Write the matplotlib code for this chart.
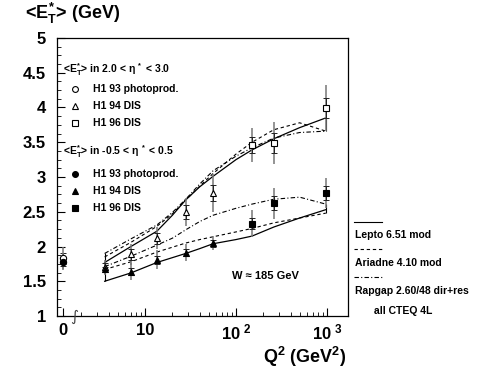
import matplotlib.pyplot as plt
from matplotlib.ticker import FixedLocator, NullFormatter, MultipleLocator

plt.rcParams['font.family'] = ['Liberation Sans', 'DejaVu Sans']
plt.rcParams['font.weight'] = 'bold'
plt.rcParams['mathtext.fontset'] = 'custom'
plt.rcParams['mathtext.rm'] = 'Liberation Sans:bold'
plt.rcParams['mathtext.bf'] = 'Liberation Sans:bold'
plt.rcParams['mathtext.it'] = 'Liberation Sans:bold'
plt.rcParams['mathtext.default'] = 'bf'

# photoproduction (Q2 = 0)
php_fwd, php_fwd_err = 1.83, 0.16
php_cen, php_cen_err = 1.78, 0.12

# H1 94 DIS
q2_94 = [3.6, 7.0, 13.5, 28, 56]
fwd_94 = [1.71, 1.89, 2.12, 2.50, 2.77]
fwd_94_err = [0.10, 0.15, 0.16, 0.20, 0.27]
fwd_94_stat = [0.05, 0.08, 0.08, 0.10, 0.12]
cen_94 = [1.67, 1.64, 1.81, 1.91, 2.05]
cen_94_err = [0.08, 0.12, 0.14, 0.12, 0.10]
cen_94_stat = [0.04, 0.05, 0.06, 0.05, 0.05]

# H1 96 DIS
q2_96 = [150, 260, 970]
fwd_96 = [3.46, 3.49, 3.99]
fwd_96_err = [0.25, 0.30, 0.33]
fwd_96_stat = [0.12, 0.14, 0.14]
cen_96 = [2.33, 2.62, 2.77]
cen_96_err = [0.20, 0.22, 0.21]
cen_96_stat = [0.08, 0.10, 0.10]

# model curves
model_q2 = [3.6, 7, 13.5, 20, 28, 40, 56, 100, 150, 260, 500, 970]
lepto_fwd = [1.77, 2.00, 2.22, 2.45, 2.67, 2.86, 3.01, 3.25, 3.39, 3.55, 3.71, 3.85]
ariadne_fwd = [1.85, 2.06, 2.29, 2.47, 2.67, 2.87, 3.05, 3.33, 3.50, 3.68, 3.78, 3.66]
rapgap_fwd = [1.90, 2.11, 2.31, 2.49, 2.68, 2.90, 3.09, 3.30, 3.42, 3.56, 3.64, 3.66]
lepto_cen = [1.50, 1.62, 1.77, 1.84, 1.90, 1.97, 2.04, 2.10, 2.15, 2.28, 2.41, 2.53]
ariadne_cen = [1.67, 1.78, 1.92, 1.99, 2.05, 2.10, 2.14, 2.21, 2.26, 2.34, 2.41, 2.48]
rapgap_cen = [1.71, 1.86, 2.02, 2.12, 2.24, 2.36, 2.45, 2.55, 2.61, 2.68, 2.71, 2.61]

PHP_X = 1.26  # where Q2=0 is drawn on the log axis

fig = plt.figure(figsize=(4.89, 3.71), dpi=100)
ax = fig.add_axes([0.1166, 0.1482, 0.5951, 0.7494])
ax.set_xscale('log')
ax.set_xlim(1.079, 1702)
ax.set_ylim(1, 5)

# models
for curves in [(lepto_fwd, ariadne_fwd, rapgap_fwd), (lepto_cen, ariadne_cen, rapgap_cen)]:
    ax.plot(model_q2, curves[0], 'k-', lw=0.9)
    ax.plot(model_q2, curves[1], color='k', ls=(0, (3, 2.5)), lw=0.8)
    ax.plot(model_q2, curves[2], color='k', ls=(0, (4, 2, 1, 2)), lw=0.8)
    ax.vlines(model_q2[-1], min(c[-1] for c in curves), max(c[-1] for c in curves), color='k', lw=0.8)
ax.vlines(model_q2[0], min(lepto_cen[0], lepto_fwd[0]), max(rapgap_fwd[0], lepto_fwd[0]), color='k', lw=0.8)


def points(x, y, err, stat, marker, filled):
    ax.errorbar(x, y, yerr=err, fmt='none', ecolor='#777777', elinewidth=1.1)
    ax.errorbar(x, y, yerr=stat, fmt='none', ecolor='#222222', elinewidth=0.7, capsize=2, capthick=0.7)
    ax.plot(x, y, marker, ls='none', ms=4.5, mec='k', mew=0.8,
            mfc='k' if filled else 'white', zorder=5)


points([PHP_X], [php_fwd], [php_fwd_err], [php_fwd_err * 0.5], 'o', False)
points([PHP_X], [php_cen], [php_cen_err], [php_cen_err * 0.5], 'o', True)
points(q2_94, fwd_94, fwd_94_err, fwd_94_stat, '^', False)
points(q2_94, cen_94, cen_94_err, cen_94_stat, '^', True)
points(q2_96, fwd_96, fwd_96_err, fwd_96_stat, 's', False)
points(q2_96, cen_96, cen_96_err, cen_96_stat, 's', True)

# axes styling
ax.xaxis.set_major_locator(FixedLocator([PHP_X, 10, 100, 1000]))
ax.set_xticklabels(['0', '10', r'10$^{\ 2}$', r'10$^{\ 3}$'])
ax.xaxis.set_minor_locator(FixedLocator([m * d for d in (1, 10, 100, 1000) for m in range(2, 10) if m * d < 1700]))
ax.xaxis.set_minor_formatter(NullFormatter())
ax.yaxis.set_major_locator(MultipleLocator(0.5))
ax.yaxis.set_minor_locator(MultipleLocator(0.125))
ax.yaxis.set_major_formatter(plt.FuncFormatter(lambda v, p: f'{v:g}'))
ax.tick_params(direction='in', which='both', labelsize=12, top=False, right=False)
ax.tick_params(which='major', length=6, width=0.8)
ax.tick_params(which='minor', length=3, width=0.6)
ax.tick_params(axis='x', pad=5)
ax.tick_params(axis='y', pad=8)
for s in ax.spines.values():
    s.set_linewidth(0.9)

# axis break mark
ax.text(1.68, 1.0, '\u222b', fontsize=11, ha='center', va='center', clip_on=False,
        color='#444444', family='DejaVu Sans', fontweight='normal', style='italic')

# in-plot legend
tr = ax.transAxes
ax.text(0.02, 0.886, r'<E$_{T}^{\!*}$> in 2.0 < $\eta^{\ *}$ < 3.0', transform=tr, fontsize=7.5, va='center')
ax.text(0.02, 0.593, r'<E$_{T}^{\!*}$> in -0.5 < $\eta^{\ *}$ < 0.5', transform=tr, fontsize=7.5, va='center')
labels = ['H1 93 photoprod.', 'H1 94 DIS', 'H1 96 DIS']
for (y0, filled) in [(0.818, False), (0.510, True)]:
    for i, (m, lab) in enumerate(zip(['o', '^', 's'], labels)):
        yy = y0 - i * 0.0615
        ax.plot([0.062], [yy], m, transform=tr, ms=4.2, mec='k', mew=0.8,
                mfc='k' if filled else 'white', clip_on=False)
        ax.text(0.124, yy, lab, transform=tr, fontsize=7.5, va='center')

ax.text(0.60, 0.143, 'W \u2248 185 GeV', transform=tr, fontsize=8, va='center')

# model legend outside
lx0, lx1 = 354 / 489, 382 / 489
for yp, ls, lab in [(222, '-', 'Lepto 6.51 mod'), (249, (0, (3, 2.5)), 'Ariadne 4.10 mod'),
                    (277, (0, (4, 2, 1, 2)), 'Rapgap 2.60/48 dir+res')]:
    fy = 1 - yp / 371
    fig.add_artist(plt.Line2D([lx0, lx1], [fy, fy], color='k', lw=0.8, ls=ls))
    fig.text(355 / 489, 1 - (yp + 13.5) / 371, lab, fontsize=7.5, va='center')
fig.text(374 / 489, 1 - 311 / 371, 'all CTEQ 4L', fontsize=7.5, va='center')

fig.text(25 / 489, 1 - 13 / 371, r'<E$_{T}^{\!*}$> (GeV)', fontsize=13, va='center')
fig.text(346 / 489, 1 - 357 / 371, r'Q$^{2}$ (GeV$^{2}$)', fontsize=13, va='center', ha='right')

fig.savefig('out.png', dpi=100)
